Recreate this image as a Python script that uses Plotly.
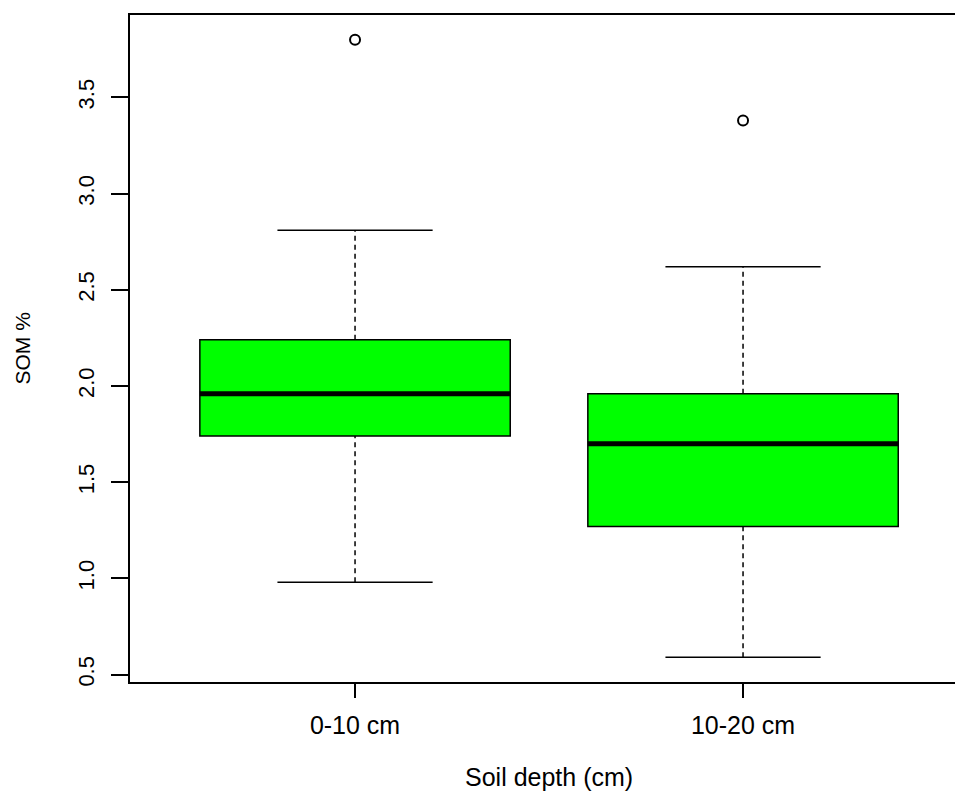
import plotly.graph_objects as go

categories = ["0-10 cm", "10-20 cm"]
lower_whisker = [0.98, 0.59]
q1 = [1.74, 1.27]
median = [1.96, 1.70]
q3 = [2.24, 1.96]
upper_whisker = [2.81, 2.62]
outliers = [[3.80], [3.38]]
y_tick_vals = [0.5, 1.0, 1.5, 2.0, 2.5, 3.0, 3.5]
y_tick_text = ["0.5", "1.0", "1.5", "2.0", "2.5", "3.0", "3.5"]

FONT = "Liberation Sans, Arial, sans-serif"
BOX_W = 0.8
CAP_W = 0.4

positions = list(range(1, len(categories) + 1))

fig = go.Figure()
shapes = []
for i, x in enumerate(positions):
    # dashed whiskers
    shapes.append(dict(type="line", xref="x", yref="y", x0=x, x1=x, y0=q3[i], y1=upper_whisker[i],
                       line=dict(color="black", width=1.5, dash="5px,4px")))
    shapes.append(dict(type="line", xref="x", yref="y", x0=x, x1=x, y0=lower_whisker[i], y1=q1[i],
                       line=dict(color="black", width=1.5, dash="5px,4px")))
    # caps
    for v in (upper_whisker[i], lower_whisker[i]):
        shapes.append(dict(type="line", xref="x", yref="y", x0=x - CAP_W / 2, x1=x + CAP_W / 2, y0=v, y1=v,
                           line=dict(color="black", width=1.5)))
    # box
    shapes.append(dict(type="rect", xref="x", yref="y", x0=x - BOX_W / 2, x1=x + BOX_W / 2,
                       y0=q1[i], y1=q3[i], fillcolor="#00FF00", line=dict(color="black", width=1.5)))
    # median
    shapes.append(dict(type="line", xref="x", yref="y", x0=x - BOX_W / 2, x1=x + BOX_W / 2,
                       y0=median[i], y1=median[i], line=dict(color="black", width=5)))

ox, oy = [], []
for i, x in enumerate(positions):
    for v in outliers[i]:
        ox.append(x)
        oy.append(v)
fig.add_trace(go.Scatter(x=ox, y=oy, mode="markers",
                         marker=dict(symbol="circle-open", size=10, color="black", line=dict(width=2)),
                         showlegend=False, hoverinfo="skip"))

all_vals = lower_whisker + upper_whisker + [v for o in outliers for v in o]
ymin, ymax = min(all_vals), max(all_vals)
pad = 0.04 * (ymax - ymin)
n = len(categories)
x_left = 0.5 - 0.04 * n  # R extends xlim (0.5, n+0.5) by 4%
x_full_right = n + 0.5 + 0.04 * n
px_per_unit = 388
plot_px = 955 - 130
x_right = x_left + plot_px / px_per_unit

fig.update_layout(
    width=955, height=791,
    margin=dict(l=130, r=0, t=15, b=109),
    plot_bgcolor="white", paper_bgcolor="white",
    font=dict(family=FONT, size=21, color="black"),
    shapes=shapes,
    xaxis=dict(range=[x_left, x_right], tickvals=positions, ticktext=categories,
               showline=True, mirror=True, linecolor="black", linewidth=1.5,
               ticks="outside", ticklen=14, tickwidth=1.5, tickcolor="black",
               ticklabelstandoff=6,
               showgrid=False, zeroline=False, tickfont=dict(size=25)),
    yaxis=dict(range=[ymin - pad, ymax + pad], tickvals=y_tick_vals,
               ticktext=y_tick_text, tickangle=-90,
               showline=True, mirror=False, linecolor="black", linewidth=1.5,
               ticks="outside", ticklen=17, tickwidth=1.5, tickcolor="black",
               ticklabelstandoff=8,
               showgrid=False, zeroline=False, tickfont=dict(size=22)),
    annotations=[
        dict(text="Soil depth (cm)", xref="x", yref="paper", x=(x_left + x_full_right) / 2,
             y=0, yshift=-95, yanchor="middle", showarrow=False, font=dict(size=25)),
        dict(text="SOM %", xref="paper", yref="paper", x=0, y=0.5, xshift=-108, xanchor="center",
             textangle=-90, showarrow=False, font=dict(size=21)),
    ],
)

fig.write_html("out.html")
